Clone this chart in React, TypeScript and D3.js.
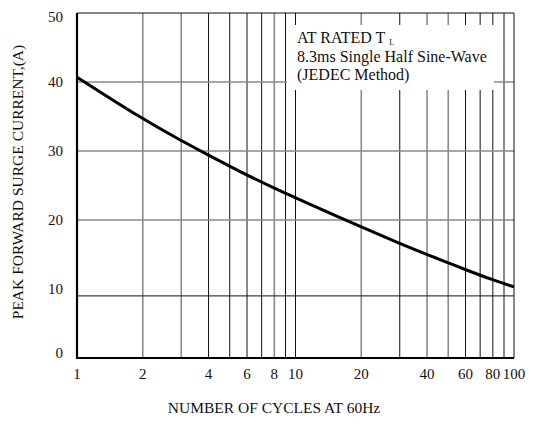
import React from 'react';
import * as d3 from 'd3';

// curve: cycles -> peak surge current (A)
const cycles = [1, 2, 3, 4, 5, 6, 8, 10, 20, 30, 40, 50, 60, 80, 100];
const current = [40.7, 34.6, 31.5, 29.4, 27.8, 26.5, 24.6, 23.2, 19.0, 16.6, 15.0, 13.8, 12.8, 11.3, 10.3];

const xTicks = [1, 2, 4, 6, 8, 10, 20, 40, 60, 80, 100];
const yTicks = [0, 10, 20, 30, 40, 50];

// vertical grid: grey ones are drawn heavier in the original
const vGridGrey = [2, 3, 8, 20, 40, 50];
const vGridBlack = [4, 5, 6, 7, 9, 10, 30, 60, 70, 80, 90];
// horizontal grid (the "10" line sits a little low in the original)
const hGridGrey = [20, 30, 40];
const hGridBlack = [9];

const W = 535;
const H = 424;
const margin = { top: 13, right: 21, bottom: 66, left: 77 };
const FONT = 'Liberation Serif, serif';

export default function App() {
  const x = d3.scaleLog().domain([1, 100]).range([margin.left, W - margin.right]);
  const y = d3.scaleLinear().domain([0, 50]).range([H - margin.bottom, margin.top]);

  const pts: [number, number][] = cycles.map((c, i) => [c, current[i]]);
  const line = d3
    .line<[number, number]>()
    .x(d => x(d[0]))
    .y(d => y(d[1]))
    .curve(d3.curveBasis);

  const x0 = x(1);
  const x1 = x(100);
  const y0 = y(0);
  const y1 = y(50);

  // note box
  const box = { x: 287, y: 25, w: 207, h: 65 };

  return (
    <svg width={W} height={H} style={{ position: 'absolute', left: 0, top: 0, background: '#fff' }}>
      <g>
        {vGridGrey.map(v => (
          <line key={'vg' + v} x1={x(v)} x2={x(v)} y1={y0} y2={y1} stroke="#8a8a8a" strokeWidth={1.6} />
        ))}
        {vGridBlack.map(v => (
          <line key={'vb' + v} x1={x(v)} x2={x(v)} y1={y0} y2={y1} stroke="#111" strokeWidth={1} />
        ))}
        {hGridGrey.map(v => (
          <line key={'hg' + v} x1={x0} x2={x1} y1={y(v)} y2={y(v)} stroke="#8a8a8a" strokeWidth={1.6} />
        ))}
        {hGridBlack.map(v => (
          <line key={'hb' + v} x1={x0} x2={x1} y1={y(v)} y2={y(v)} stroke="#111" strokeWidth={1} />
        ))}
      </g>

      {/* frame */}
      <line x1={x0} x2={x1} y1={y1} y2={y1} stroke="#111" strokeWidth={1} />
      <line x1={x1} x2={x1} y1={y0} y2={y1} stroke="#111" strokeWidth={1} />
      <line x1={x0} x2={x0} y1={y0 + 1} y2={y1} stroke="#000" strokeWidth={2.2} />
      <line x1={x0 - 1} x2={x1} y1={y0} y2={y0} stroke="#000" strokeWidth={2.2} />

      {/* annotation */}
      <rect x={box.x} y={box.y} width={box.w} height={box.h} fill="#fff" />
      <g fontFamily={FONT} fontSize={16} fill="#111">
        <text x={297} y={43}>
          AT RATED T
          <tspan fontSize={8} dx={4} dy={2}>L</tspan>
        </text>
        <text x={297} y={61.5}>8.3ms Single Half Sine-Wave</text>
        <text x={297} y={80}>(JEDEC Method)</text>
      </g>

      <path d={line(pts) ?? ''} fill="none" stroke="#000" strokeWidth={3} strokeLinejoin="round" />

      {/* tick labels */}
      <g fontFamily={FONT} fontSize={15} fill="#111">
        {xTicks.map(t => (
          <text key={'xt' + t} x={x(t)} y={379} textAnchor="middle">{t}</text>
        ))}
        {yTicks.map(t => (
          <text
            key={'yt' + t}
            x={63}
            y={Math.min(Math.max(y(t), y1 + 4), y0 - 5)}
            textAnchor="end"
            dominantBaseline="central"
          >
            {t}
          </text>
        ))}
      </g>

      <text x={274} y={413} textAnchor="middle" fontFamily={FONT} fontSize={15.5} fill="#111">
        NUMBER OF CYCLES AT 60Hz
      </text>
      <text
        transform={`translate(23, 182) rotate(-90)`}
        textAnchor="middle"
        fontFamily={FONT}
        fontSize={15.5}
        fill="#111"
      >
        PEAK FORWARD SURGE CURRENT,(A)
      </text>
    </svg>
  );
}
